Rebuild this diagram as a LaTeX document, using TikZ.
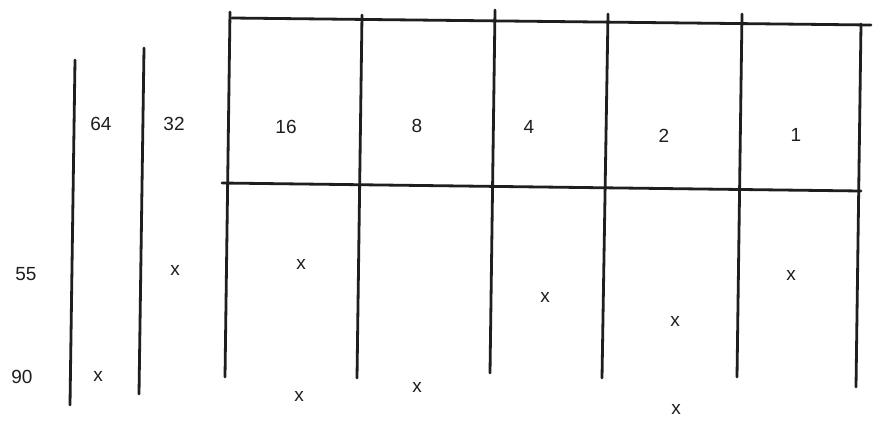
\documentclass[tikz,border=0pt]{standalone}
\usepackage{fontspec}
\setmainfont{Liberation Sans}
\definecolor{ink}{HTML}{1E1E1E}
\begin{document}
\begin{tikzpicture}[x=1pt,y=-1pt,
  rule/.style={draw=ink,line width=2.8pt,line cap=round},
  lbl/.style={text=ink,font=\fontsize{19}{19}\selectfont,inner sep=0pt,anchor=center},
  xmark/.style={lbl}]
\useasboundingbox[fill=white] (0,0) rectangle (880,432);
% vertical rules
\draw[rule] (75,60) -- (70,405);
\draw[rule] (144,48) -- (139,394);
\draw[rule] (230,12) -- (225,377);
\draw[rule] (362,15) -- (357,378);
\draw[rule] (495,10) -- (490,373);
\draw[rule] (608,14) -- (602,378);
\draw[rule] (742,14) -- (737,377);
\draw[rule] (861,24) -- (856,387);
% horizontal rules
\draw[rule] (232,18) -- (871,25);
\draw[rule] (222,183) -- (861,191);
% headers
\node[lbl] (h64) at (101,124) {64};
\node[lbl] (h32) at (174,124) {32};
\node[lbl] (h16) at (286,127) {16};
\node[lbl] (h8) at (417,126) {8};
\node[lbl] (h4) at (529,127) {4};
\node[lbl] (h2) at (664,136) {2};
\node[lbl] (h1) at (796,135) {1};
% row labels
\node[lbl] (r55) at (26,274) {55};
\node[lbl] (r90) at (22,377) {90};
% marks
\node[xmark] (x1) at (98,376) {x};
\node[xmark] (x2) at (175,270) {x};
\node[xmark] (x3) at (301,264) {x};
\node[xmark] (x4) at (299,396) {x};
\node[xmark] (x5) at (417,387) {x};
\node[xmark] (x6) at (545,297) {x};
\node[xmark] (x7) at (675,321) {x};
\node[xmark] (x8) at (791,275) {x};
\node[xmark] (x9) at (676,409) {x};
\end{tikzpicture}
\end{document}
